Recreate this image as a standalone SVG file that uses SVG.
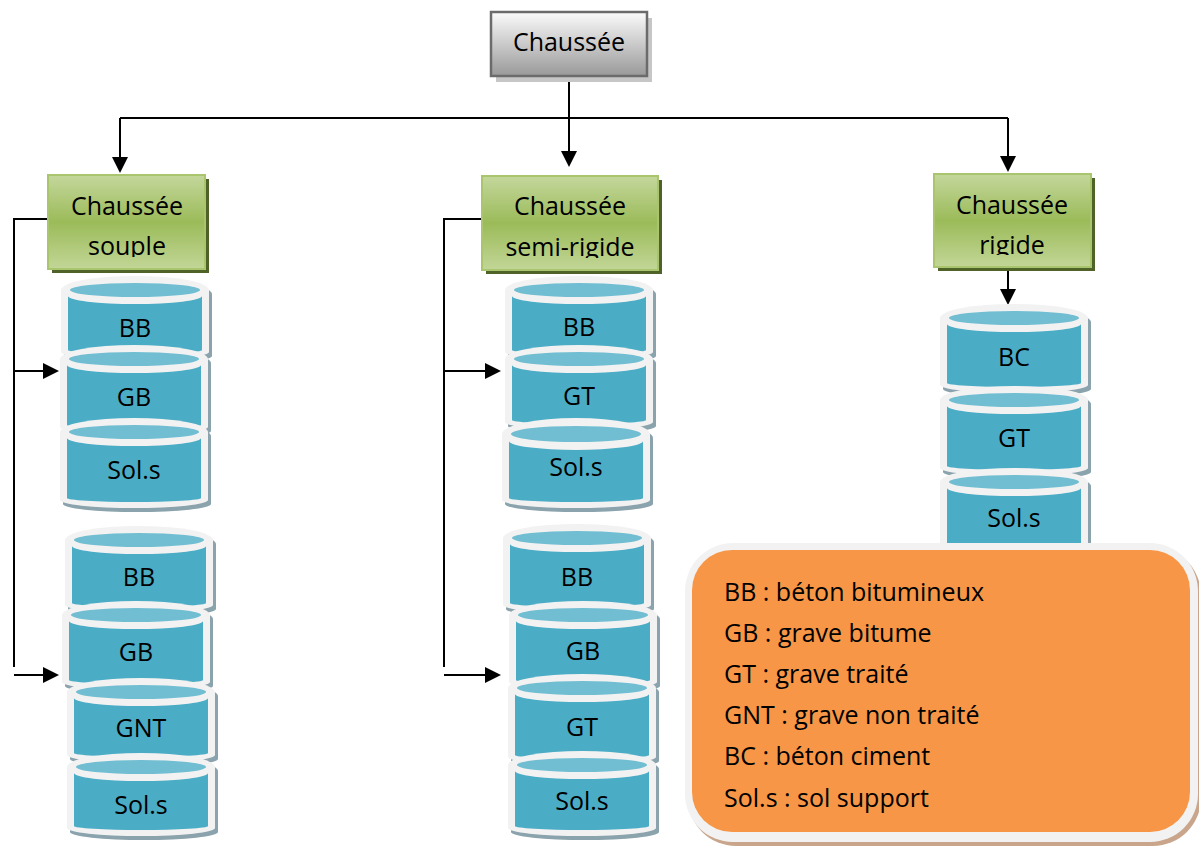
<svg xmlns="http://www.w3.org/2000/svg" width="1199" height="850" viewBox="0 0 1199 850">
<defs>
<style>
text{font-family:"Open Sans","Liberation Sans",sans-serif;font-size:25px;fill:#000}
.c{text-anchor:middle}
.ln{fill:none;stroke:#000;stroke-width:2}
.arr{marker-end:url(#ah)}
.gb{fill:url(#gg);stroke:#a9c66f;stroke-width:2}
.gs{fill:#4f6228}
.sh{fill:#8aa3ad}
.ow{fill:#f2f2f2}
.bd{fill:#4bacc6}
.tp{fill:#71bed2}
</style>
<linearGradient id="gg" x1="0" y1="0" x2="0" y2="1">
<stop offset="0" stop-color="#c4d79c"/>
<stop offset="0.5" stop-color="#9bbb59"/>
<stop offset="1" stop-color="#c2d697"/>
</linearGradient>
<linearGradient id="tg" x1="0" y1="0" x2="0" y2="1">
<stop offset="0" stop-color="#fbfbfb"/>
<stop offset="1" stop-color="#999"/>
</linearGradient>
<marker id="ah" viewBox="0 0 16 16" refX="14" refY="8" markerWidth="16" markerHeight="16" markerUnits="userSpaceOnUse" orient="auto">
<path d="M0,0 L16,8 L0,16 Z" fill="#000"/>
</marker>
<clipPath id="cs"><rect x="48" y="175" width="157" height="82"/></clipPath>
<clipPath id="cm"><rect x="482" y="176" width="176" height="82"/></clipPath>
<clipPath id="cr"><rect x="934" y="174" width="157" height="81"/></clipPath>
</defs>
<rect width="1199" height="850" fill="#fff"/>

<g id="connectors">
<path class="ln arr" d="M569,76 L569,165"/>
<path class="ln" d="M120,118 L1008,118"/>
<path class="ln arr" d="M120,118 L120,171"/>
<path class="ln arr" d="M1008,118 L1008,170"/>
<path class="ln" d="M48,219 L14,219 L14,667"/>
<path class="ln arr" d="M14,371 L57,371"/>
<path class="ln arr" d="M14,675 L57,675"/>
<path class="ln" d="M482,219 L444,219 L444,667"/>
<path class="ln arr" d="M444,371 L499,371"/>
<path class="ln arr" d="M444,675 L499,675"/>
<path class="ln arr" d="M1008,268 L1008,303"/>
</g>

<g id="chaussee">
<rect x="496" y="18" width="156" height="64" fill="#c6c6c6"/>
<rect x="491" y="12" width="156" height="64" fill="url(#tg)" stroke="#6b6b6b" stroke-width="2.5"/>
<text class="c" x="569" y="51">Chaussée</text>
</g>

<g id="souple">
<rect class="gs" x="52" y="179" width="157" height="94"/>
<rect class="gb" x="48" y="175" width="157" height="94"/>
<g clip-path="url(#cs)"><text class="c" x="127" y="215">Chaussée</text><text class="c" x="127" y="255">souple</text></g>
</g>

<g id="semi-rigide">
<rect class="gs" x="486" y="180" width="176" height="94"/>
<rect class="gb" x="482" y="176" width="176" height="94"/>
<g clip-path="url(#cm)"><text class="c" x="570" y="215">Chaussée</text><text class="c" x="570" y="256">semi-rigide</text></g>
</g>

<g id="rigide">
<rect class="gs" x="938" y="178" width="157" height="93"/>
<rect class="gb" x="934" y="174" width="157" height="93"/>
<g clip-path="url(#cr)"><text class="c" x="1012" y="214">Chaussée</text><text class="c" x="1012" y="254">rigide</text></g>
</g>

<!-- souple stack 1 -->
<g id="s1-bb" transform="translate(135,290)">
<path class="sh" d="M-71,4 A74 14 0 0 1 77,4 L77,66 A74 8 0 0 1 -71,66 Z"/>
<path class="ow" d="M-74,0 A74 14 0 0 1 74,0 L74,62 A74 8 0 0 1 -74,62 Z"/>
<path class="bd" d="M-67,6 A67 8 0 0 0 67,6 L67,60 A67 4 0 0 1 -67,60 Z"/>
<ellipse class="tp" rx="65" ry="7"/>
<text class="c" y="47">BB</text>
</g>
<g id="s1-gb" transform="translate(134,359)">
<path class="sh" d="M-71,4 A74 14 0 0 1 77,4 L77,72 A74 8 0 0 1 -71,72 Z"/>
<path class="ow" d="M-74,0 A74 14 0 0 1 74,0 L74,68 A74 8 0 0 1 -74,68 Z"/>
<path class="bd" d="M-67,6 A67 8 0 0 0 67,6 L67,66 A67 4 0 0 1 -67,66 Z"/>
<ellipse class="tp" rx="65" ry="7"/>
<text class="c" y="47">GB</text>
</g>
<g id="s1-sol" transform="translate(134,432)">
<path class="sh" d="M-71,4 A74 14 0 0 1 77,4 L77,72 A74 8 0 0 1 -71,72 Z"/>
<path class="ow" d="M-74,0 A74 14 0 0 1 74,0 L74,68 A74 8 0 0 1 -74,68 Z"/>
<path class="bd" d="M-67,6 A67 8 0 0 0 67,6 L67,66 A67 4 0 0 1 -67,66 Z"/>
<ellipse class="tp" rx="65" ry="7"/>
<text class="c" y="47">Sol.s</text>
</g>

<!-- souple stack 2 -->
<g id="s2-bb" transform="translate(139,540)">
<path class="sh" d="M-71,4 A74 14 0 0 1 77,4 L77,69 A74 8 0 0 1 -71,69 Z"/>
<path class="ow" d="M-74,0 A74 14 0 0 1 74,0 L74,65 A74 8 0 0 1 -74,65 Z"/>
<path class="bd" d="M-67,6 A67 8 0 0 0 67,6 L67,63 A67 4 0 0 1 -67,63 Z"/>
<ellipse class="tp" rx="65" ry="7"/>
<text class="c" y="46">BB</text>
</g>
<g id="s2-gb" transform="translate(136,615)">
<path class="sh" d="M-71,4 A74 14 0 0 1 77,4 L77,71 A74 8 0 0 1 -71,71 Z"/>
<path class="ow" d="M-74,0 A74 14 0 0 1 74,0 L74,67 A74 8 0 0 1 -74,67 Z"/>
<path class="bd" d="M-67,6 A67 8 0 0 0 67,6 L67,65 A67 4 0 0 1 -67,65 Z"/>
<ellipse class="tp" rx="65" ry="7"/>
<text class="c" y="46">GB</text>
</g>
<g id="s2-gnt" transform="translate(141,692)">
<path class="sh" d="M-71,4 A74 14 0 0 1 77,4 L77,67 A74 8 0 0 1 -71,67 Z"/>
<path class="ow" d="M-74,0 A74 14 0 0 1 74,0 L74,63 A74 8 0 0 1 -74,63 Z"/>
<path class="bd" d="M-67,6 A67 8 0 0 0 67,6 L67,61 A67 4 0 0 1 -67,61 Z"/>
<ellipse class="tp" rx="65" ry="7"/>
<text class="c" y="45">GNT</text>
</g>
<g id="s2-sol" transform="translate(141,767)">
<path class="sh" d="M-71,4 A74 14 0 0 1 77,4 L77,65 A74 8 0 0 1 -71,65 Z"/>
<path class="ow" d="M-74,0 A74 14 0 0 1 74,0 L74,61 A74 8 0 0 1 -74,61 Z"/>
<path class="bd" d="M-67,6 A67 8 0 0 0 67,6 L67,59 A67 4 0 0 1 -67,59 Z"/>
<ellipse class="tp" rx="65" ry="7"/>
<text class="c" y="47">Sol.s</text>
</g>

<!-- semi-rigide stack 1 -->
<g id="m1-bb" transform="translate(579,290)">
<path class="sh" d="M-71,4 A74 14 0 0 1 77,4 L77,66 A74 8 0 0 1 -71,66 Z"/>
<path class="ow" d="M-74,0 A74 14 0 0 1 74,0 L74,62 A74 8 0 0 1 -74,62 Z"/>
<path class="bd" d="M-67,6 A67 8 0 0 0 67,6 L67,60 A67 4 0 0 1 -67,60 Z"/>
<ellipse class="tp" rx="65" ry="7"/>
<text class="c" y="46">BB</text>
</g>
<g id="m1-gt" transform="translate(579,359)">
<path class="sh" d="M-71,4 A74 14 0 0 1 77,4 L77,67 A74 8 0 0 1 -71,67 Z"/>
<path class="ow" d="M-74,0 A74 14 0 0 1 74,0 L74,63 A74 8 0 0 1 -74,63 Z"/>
<path class="bd" d="M-67,6 A67 8 0 0 0 67,6 L67,61 A67 4 0 0 1 -67,61 Z"/>
<ellipse class="tp" rx="65" ry="7"/>
<text class="c" y="46">GT</text>
</g>
<g id="m1-sol" transform="translate(576,434)">
<path class="sh" d="M-71,4 A74 16 0 0 1 77,4 L77,70 A74 8 0 0 1 -71,70 Z"/>
<path class="ow" d="M-74,0 A74 16 0 0 1 74,0 L74,66 A74 8 0 0 1 -74,66 Z"/>
<path class="bd" d="M-67,7 A67 9 0 0 0 67,7 L67,64 A67 4 0 0 1 -67,64 Z"/>
<ellipse class="tp" rx="65" ry="8"/>
<text class="c" y="42">Sol.s</text>
</g>

<!-- semi-rigide stack 2 -->
<g id="m2-bb" transform="translate(577,538)">
<path class="sh" d="M-71,4 A74 14 0 0 1 77,4 L77,71 A74 8 0 0 1 -71,71 Z"/>
<path class="ow" d="M-74,0 A74 14 0 0 1 74,0 L74,67 A74 8 0 0 1 -74,67 Z"/>
<path class="bd" d="M-67,6 A67 8 0 0 0 67,6 L67,65 A67 4 0 0 1 -67,65 Z"/>
<ellipse class="tp" rx="65" ry="7"/>
<text class="c" y="48">BB</text>
</g>
<g id="m2-gb" transform="translate(583,615)">
<path class="sh" d="M-71,4 A74 14 0 0 1 77,4 L77,71 A74 8 0 0 1 -71,71 Z"/>
<path class="ow" d="M-74,0 A74 14 0 0 1 74,0 L74,67 A74 8 0 0 1 -74,67 Z"/>
<path class="bd" d="M-67,6 A67 8 0 0 0 67,6 L67,65 A67 4 0 0 1 -67,65 Z"/>
<ellipse class="tp" rx="65" ry="7"/>
<text class="c" y="45">GB</text>
</g>
<g id="m2-gt" transform="translate(582,688)">
<path class="sh" d="M-71,4 A74 14 0 0 1 77,4 L77,73 A74 8 0 0 1 -71,73 Z"/>
<path class="ow" d="M-74,0 A74 14 0 0 1 74,0 L74,69 A74 8 0 0 1 -74,69 Z"/>
<path class="bd" d="M-67,6 A67 8 0 0 0 67,6 L67,67 A67 4 0 0 1 -67,67 Z"/>
<ellipse class="tp" rx="65" ry="7"/>
<text class="c" y="48">GT</text>
</g>
<g id="m2-sol" transform="translate(582,765)">
<path class="sh" d="M-71,4 A74 14 0 0 1 77,4 L77,67 A74 8 0 0 1 -71,67 Z"/>
<path class="ow" d="M-74,0 A74 14 0 0 1 74,0 L74,63 A74 8 0 0 1 -74,63 Z"/>
<path class="bd" d="M-67,6 A67 8 0 0 0 67,6 L67,61 A67 4 0 0 1 -67,61 Z"/>
<ellipse class="tp" rx="65" ry="7"/>
<text class="c" y="45">Sol.s</text>
</g>

<!-- rigide stack -->
<g id="r-bc" transform="translate(1014,318)">
<path class="sh" d="M-71,4 A74 14 0 0 1 77,4 L77,71 A74 8 0 0 1 -71,71 Z"/>
<path class="ow" d="M-74,0 A74 14 0 0 1 74,0 L74,67 A74 8 0 0 1 -74,67 Z"/>
<path class="bd" d="M-67,6 A67 8 0 0 0 67,6 L67,65 A67 4 0 0 1 -67,65 Z"/>
<ellipse class="tp" rx="65" ry="7"/>
<text class="c" y="48">BC</text>
</g>
<g id="r-gt" transform="translate(1014,400)">
<path class="sh" d="M-71,4 A74 14 0 0 1 77,4 L77,72 A74 8 0 0 1 -71,72 Z"/>
<path class="ow" d="M-74,0 A74 14 0 0 1 74,0 L74,68 A74 8 0 0 1 -74,68 Z"/>
<path class="bd" d="M-67,6 A67 8 0 0 0 67,6 L67,66 A67 4 0 0 1 -67,66 Z"/>
<ellipse class="tp" rx="65" ry="7"/>
<text class="c" y="47">GT</text>
</g>
<g id="r-sol" transform="translate(1014,482)">
<path class="sh" d="M-71,4 A74 14 0 0 1 77,4 L77,84 A74 8 0 0 1 -71,84 Z"/>
<path class="ow" d="M-74,0 A74 14 0 0 1 74,0 L74,80 A74 8 0 0 1 -74,80 Z"/>
<path class="bd" d="M-67,6 A67 8 0 0 0 67,6 L67,78 A67 4 0 0 1 -67,78 Z"/>
<ellipse class="tp" rx="65" ry="7"/>
<text class="c" y="45">Sol.s</text>
</g>

<g id="legend">
<rect x="688" y="547" width="513" height="299" rx="48" fill="#c9a68b"/>
<rect x="685" y="543" width="513" height="299" rx="48" fill="#f2f2f2"/>
<rect x="692" y="550" width="498" height="282" rx="40" fill="#f79646"/>
<text x="724" y="601">BB : béton bitumineux</text>
<text x="724" y="642">GB : grave bitume</text>
<text x="724" y="683">GT : grave traité</text>
<text x="724" y="724">GNT : grave non traité</text>
<text x="724" y="765">BC : béton ciment</text>
<text x="724" y="807">Sol.s : sol support</text>
</g>
</svg>
